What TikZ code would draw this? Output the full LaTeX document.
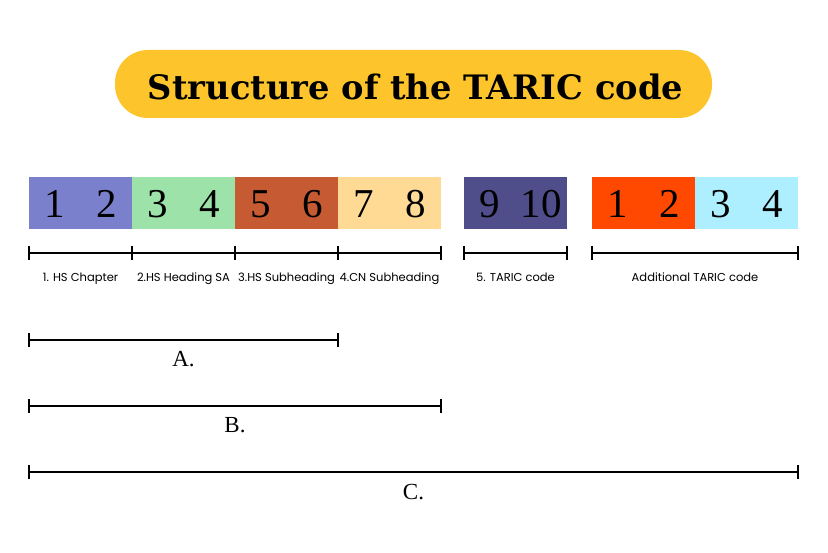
\documentclass[tikz,border=0pt]{standalone}
\usepackage{fontspec}
\setmainfont{Liberation Serif}
\newfontfamily\labelfont{Poppins}
\newfontfamily\titlefont{DejaVu Serif}
\usetikzlibrary{positioning}
\definecolor{cA}{HTML}{7B80CC}
\definecolor{cB}{HTML}{9CE2A9}
\definecolor{cC}{HTML}{C65A32}
\definecolor{cD}{HTML}{FFDA95}
\definecolor{cE}{HTML}{4F4E8B}
\definecolor{cF}{HTML}{FF4900}
\definecolor{cG}{HTML}{ADEFFE}
\definecolor{cY}{HTML}{FDC52B}
\tikzset{
  seg/.style={draw=none, minimum height=52pt, minimum width=103pt, inner sep=0pt, outer sep=0pt, anchor=north west},
  digit/.style={font=\fontsize{41}{41}\selectfont, inner sep=0pt, anchor=base},
  brk/.style={line width=1.8pt},
  lab/.style={font=\labelfont\fontsize{11.5}{13}\selectfont, inner sep=0pt, anchor=base},
  big/.style={font=\fontsize{23}{26}\selectfont, inner sep=0pt, anchor=base}
}
\begin{document}
\begin{tikzpicture}[x=1pt,y=-1pt]
\useasboundingbox (0,0) rectangle (828,553);
\fill[white] (0,0) rectangle (828,553);
% title
\node[fill=cY, rounded corners=33pt, minimum width=597pt, minimum height=68pt, inner sep=0pt] (titlebg) at (413.5,84) {};
\node[inner sep=0pt, anchor=base] (title) at (415.5,100) {\resizebox{535pt}{!}{\titlefont\bfseries Structure of the TARIC code}};
% segments
\node[seg, fill=cA] (s1) at (29,177) {};
\node[seg, fill=cB] (s2) at (132,177) {};
\node[seg, fill=cC] (s3) at (235,177) {};
\node[seg, fill=cD] (s4) at (338,177) {};
\node[seg, fill=cE] (s5) at (464,177) {};
\node[seg, fill=cF] (s6) at (592,177) {};
\node[seg, fill=cG] (s7) at (695,177) {};
% digits
\node[digit] (d1) at (54.75,218) {1};
\node[digit] (d2) at (106.25,218) {2};
\node[digit] (d3) at (157.75,218) {3};
\node[digit] (d4) at (209.25,218) {4};
\node[digit] (d5) at (260.75,218) {5};
\node[digit] (d6) at (312.25,218) {6};
\node[digit] (d7) at (363.75,218) {7};
\node[digit] (d8) at (415.25,218) {8};
\node[digit] (d9) at (489.75,218) {9};
\node[digit] (d10) at (541.25,218) {10};
\node[digit] (d11) at (617.75,218) {1};
\node[digit] (d12) at (669.25,218) {2};
\node[digit] (d13) at (720.75,218) {3};
\node[digit] (d14) at (772.25,218) {4};
% bracket coordinates
\foreach \n/\x in {p0/29,p1/132,p2/235,p3/338,p4/441,q0/464,q1/567,r0/592,r1/798} {
  \coordinate (\n) at (\x,253);
  \coordinate (\n t) at (\x,246);
  \coordinate (\n b) at (\x,260);
}
\draw[brk] (p0) -- (p4);
\draw[brk] (q0) -- (q1);
\draw[brk] (r0) -- (r1);
\foreach \n in {p0,p1,p2,p3,p4,q0,q1,r0,r1} \draw[brk] (\n t) -- (\n b);
% labels
\node[lab] (l1) at (80.5,282) {1. HS Chapter};
\node[lab] (l2) at (183.5,282) {2.HS Heading SA};
\node[lab] (l3) at (286.5,282) {3.HS Subheading};
\node[lab] (l4) at (389.5,282) {4.CN Subheading};
\node[lab] (l5) at (515.5,282) {5. TARIC code};
\node[lab] (l6) at (695,282) {Additional TARIC code};
% A B C
\foreach \n/\y/\x in {a/340/338, b/406/441, c/472/798} {
  \coordinate (\n0) at (29,\y);
  \coordinate (\n1) at (\x,\y);
  \coordinate (\n0t) at (29,\y-7);
  \coordinate (\n0b) at (29,\y+7);
  \coordinate (\n1t) at (\x,\y-7);
  \coordinate (\n1b) at (\x,\y+7);
  \draw[brk] (\n0) -- (\n1);
  \draw[brk] (\n0t) -- (\n0b);
  \draw[brk] (\n1t) -- (\n1b);
}
\node[big] (A) at (183.5,367) {A.};
\node[big] (B) at (235,433) {B.};
\node[big] (C) at (413.5,499) {C.};
\end{tikzpicture}
\end{document}
